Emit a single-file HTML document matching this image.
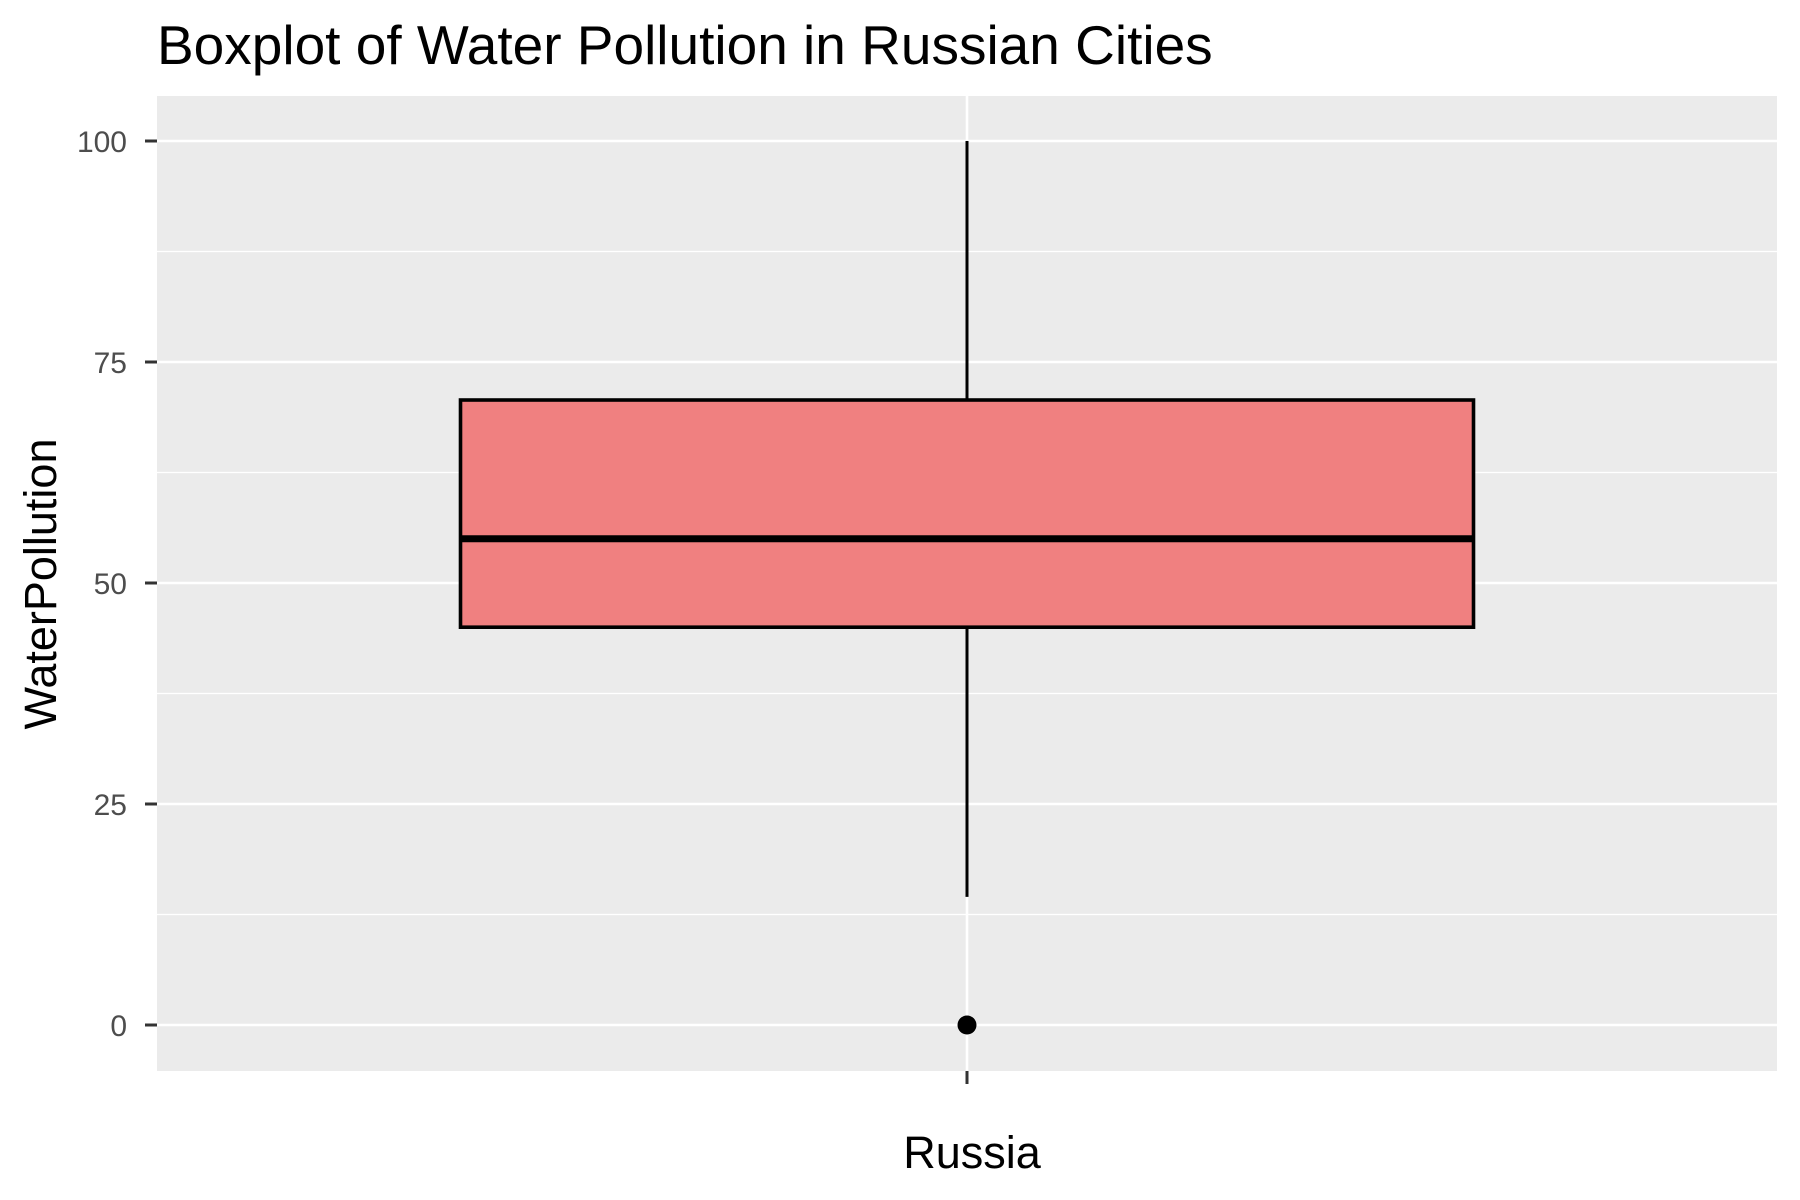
<!DOCTYPE html>
<html><head><meta charset="utf-8"><style>
html,body{margin:0;padding:0;background:#fff;}
svg{display:block;font-family:"Liberation Sans",Arial,sans-serif;}
</style></head><body>
<svg id="chart" width="1800" height="1200" viewBox="0 0 1800 1200">
<text x="157" y="64" font-size="55" fill="#000">Boxplot of Water Pollution in Russian Cities</text>
<rect x="157" y="96" width="1620" height="975" fill="#ebebeb"/>
<g id="grid"></g>
<g id="marks"></g>
<g id="axes"></g>
<text transform="translate(56,584) rotate(-90)" text-anchor="middle" font-size="45" fill="#000">WaterPollution</text>
<text x="972" y="1168" text-anchor="middle" font-size="45" fill="#000">Russia</text>
</svg>
<script>
const categories = ["Russia"];
const yTicks = [0, 25, 50, 75, 100];
const yMinorTicks = [12.5, 37.5, 62.5, 87.5];
const q1Values = [45];
const medianValues = [55];
const q3Values = [70.7];
const whiskerLow = [14.5];
const whiskerHigh = [100];
const outliers = [[0]];

const NS = "http://www.w3.org/2000/svg";
const panel = {x0:157, x1:1777};
function yScale(v){ return 1025 - v * (1025 - 141) / 100; }
function xScale(i){ return 967 + i * 0; }
const boxHalf = 506.5;
function mk(tag, attrs, parent){
  const e = document.createElementNS(NS, tag);
  for (const k in attrs) e.setAttribute(k, attrs[k]);
  parent.appendChild(e);
  return e;
}
const grid = document.getElementById('grid');
const marks = document.getElementById('marks');
const axes = document.getElementById('axes');

yMinorTicks.forEach(v => {
  const l = mk('line', {x1:panel.x0, x2:panel.x1, y1:yScale(v), y2:yScale(v), stroke:'#fff', 'stroke-width':1.3}, grid);
  
  
});
yTicks.forEach(v => {
  const l = mk('line', {x1:panel.x0, x2:panel.x1, y1:yScale(v), y2:yScale(v), stroke:'#fff', 'stroke-width':2.6}, grid);
  
  
  const t = mk('line', {x1:145, x2:157, y1:yScale(v), y2:yScale(v), stroke:'#333', 'stroke-width':3}, axes);
  
  
  const lab = mk('text', {x:127, y:yScale(v)+11, 'text-anchor':'end', 'font-size':30, fill:'#4d4d4d'}, axes);
  lab.textContent = v;
  
  
});
categories.forEach((c, i) => {
  const cx = xScale(i);
  const vg = mk('line', {x1:cx, x2:cx, y1:96, y2:1071, stroke:'#fff', 'stroke-width':2.6}, grid);
  
  
  const xt = mk('line', {x1:cx, x2:cx, y1:1071, y2:1084, stroke:'#333', 'stroke-width':3}, axes);
  
  
  const w1 = mk('line', {x1:cx, x2:cx, y1:yScale(whiskerHigh[i]), y2:yScale(q3Values[i]), stroke:'#000', 'stroke-width':3}, marks);
  
  
  const w2 = mk('line', {x1:cx, x2:cx, y1:yScale(q1Values[i]), y2:yScale(whiskerLow[i]), stroke:'#000', 'stroke-width':3}, marks);
  
  
  const b = mk('rect', {x:cx-boxHalf, y:yScale(q3Values[i]), width:boxHalf*2, height:yScale(q1Values[i])-yScale(q3Values[i]), fill:'#f08080', stroke:'#000', 'stroke-width':3.6}, marks);
  
  
  const m = mk('line', {x1:cx-boxHalf, x2:cx+boxHalf, y1:yScale(medianValues[i]), y2:yScale(medianValues[i]), stroke:'#000', 'stroke-width':7}, marks);
  
  
  outliers[i].forEach(o => {
    const p = mk('circle', {cx:cx, cy:yScale(o), r:9.5, fill:'#000'}, marks);
    
    
  });
});
</script>
</body></html>
